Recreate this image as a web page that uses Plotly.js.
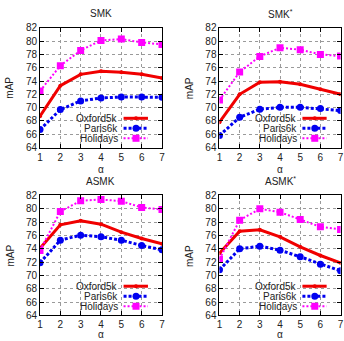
<!DOCTYPE html>
<html>
<head>
<meta charset="utf-8">
<script src="https://cdn.plot.ly/plotly-3.0.1.min.js"></script>
<style>
  html, body { margin: 0; padding: 0; background: #fff; }
  #chart { width: 344px; height: 341px; }
</style>
</head>
<body>
<div id="chart"></div>
<script>
// alpha values on the x axis
const alphas = [1, 2, 3, 4, 5, 6, 7];
const tickVals = [64, 66, 68, 70, 72, 74, 76, 78, 80, 82];

// SMK
const smkOxford   = [68.7, 73.3, 75.0, 75.45, 75.3, 75.0, 74.45];
const smkParis    = [66.7, 69.7, 71.0, 71.45, 71.6, 71.6, 71.55];
const smkHolidays = [72.5, 76.3, 78.6, 80.1, 80.3, 79.8, 79.5];

// SMK*
const smkStarOxford   = [67.8, 72.0, 73.8, 73.9, 73.5, 72.75, 72.0];
const smkStarParis    = [65.8, 68.55, 69.75, 70.05, 70.05, 69.85, 69.55];
const smkStarHolidays = [71.15, 75.35, 77.7, 79.0, 78.7, 78.0, 77.75];

// ASMK
const asmkOxford   = [74.1, 77.6, 78.2, 77.7, 76.5, 75.55, 74.75];
const asmkParis    = [71.9, 75.3, 76.05, 75.8, 75.3, 74.5, 73.85];
const asmkHolidays = [73.75, 79.6, 81.2, 81.4, 81.15, 80.2, 79.9];

// ASMK*
const asmkStarOxford   = [73.35, 76.65, 76.85, 75.8, 74.3, 73.0, 71.9];
const asmkStarParis    = [70.85, 74.0, 74.4, 73.8, 72.8, 71.7, 70.7];
const asmkStarHolidays = [72.45, 78.3, 80.0, 79.5, 78.4, 77.3, 76.9];

const seriesNames = ['Oxford5k', 'Paris6k', 'Holidays'];
const panelTitles = ['SMK', 'SMK<sup>*</sup>', 'ASMK', 'ASMK<sup>*</sup>'];
const xTitle = 'α';
const yTitle = 'mAP';

const panels = [
  [smkOxford, smkParis, smkHolidays],
  [smkStarOxford, smkStarParis, smkStarHolidays],
  [asmkOxford, asmkParis, asmkHolidays],
  [asmkStarOxford, asmkStarParis, asmkStarHolidays]
];

const styles = [
  { color: '#f00000', width: 3, dash: 'solid',   symbol: 'circle', size: 4 },
  { color: '#0000f0', width: 3, dash: '3px,2px', symbol: 'circle', size: 7 },
  { color: '#ff00ff', width: 2, dash: '2px,2px', symbol: 'square', size: 7 }
];

const FONT = 'Liberation Sans, Arial, sans-serif';
const TEXT = '#222';
const xDomains = [[0.1163, 0.4709], [0.638, 0.990]];
const yDomains = [[0.5674, 0.9185], [0.0748, 0.4267]];

const traces = [];
const layout = {
  width: 344, height: 341,
  margin: { l: 0, r: 0, t: 0, b: 0 },
  paper_bgcolor: '#fff', plot_bgcolor: '#fff',
  showlegend: false,
  font: { family: FONT, size: 10, color: TEXT },
  annotations: [],
  shapes: []
};

function label(xref, yref, x, y, text, extra) {
  return Object.assign({
    xref: xref, yref: yref, x: x, y: y, text: text, showarrow: false,
    font: { family: FONT, size: 10, color: TEXT }
  }, extra);
}

panels.forEach((series, p) => {
  const n = p === 0 ? '' : String(p + 1);
  const xa = 'x' + n, ya = 'y' + n;
  const xd = xa + ' domain', yd = ya + ' domain';
  const col = p % 2, row = Math.floor(p / 2);

  series.forEach((vals, s) => {
    const st = styles[s];
    traces.push({
      type: 'scatter', mode: 'lines+markers',
      x: alphas, y: vals, name: seriesNames[s],
      xaxis: xa, yaxis: ya,
      line: { color: st.color, width: st.width, dash: st.dash },
      marker: { color: st.color, symbol: st.symbol, size: st.size }
    });
  });

  const common = {
    ticks: 'inside', ticklen: 4, tickcolor: '#000',
    showline: true, linecolor: '#000', linewidth: 1, mirror: 'allticks',
    showgrid: true, gridcolor: '#9a9a9a', griddash: 'dot', gridwidth: 1,
    zeroline: false, fixedrange: true, automargin: false,
    tickfont: { family: FONT, size: 10, color: TEXT }
  };
  layout['xaxis' + n] = Object.assign({
    domain: xDomains[col], anchor: ya, range: [1, 7], tickvals: alphas
  }, common);
  layout['yaxis' + n] = Object.assign({
    domain: yDomains[row], anchor: xa, range: [64, 82], tickvals: tickVals
  }, common);

  // panel title and axis titles
  layout.annotations.push(label(xd, yd, 0.5, 1, panelTitles[p],
    { yanchor: 'middle', yshift: 14 }));
  layout.annotations.push(label(xd, yd, 0.5, 0, xTitle,
    { yanchor: 'middle', yshift: row === 0 ? -22 : -19 }));
  layout.annotations.push(label(xd, yd, 0, 0.5, yTitle,
    { xanchor: 'center', yanchor: 'middle', xshift: -30, textangle: -90 }));

  // legend in the lower-right corner: label on the left, sample on the right
  const rowsY = [0.244, 0.160, 0.077];
  seriesNames.forEach((name, s) => {
    const st = styles[s];
    layout.annotations.push(label(xd, yd, 0.645, rowsY[s], name,
      { xanchor: 'right', yanchor: 'middle', borderpad: 0 }));
    layout.shapes.push({
      type: 'line', xref: xd, yref: yd,
      x0: 0.685, x1: 0.885, y0: rowsY[s], y1: rowsY[s],
      line: { color: st.color, width: st.width, dash: st.dash }
    });
    const h = st.size / 2;
    layout.shapes.push({
      type: st.symbol === 'square' ? 'rect' : 'circle',
      xref: xd, yref: yd,
      xsizemode: 'pixel', ysizemode: 'pixel',
      xanchor: 0.787, yanchor: rowsY[s],
      x0: -h, x1: h, y0: -h, y1: h,
      fillcolor: st.color, line: { width: 0 }
    });
  });
});

Plotly.newPlot('chart', traces, layout, { staticPlot: true, displayModeBar: false });
</script>
</body>
</html>
